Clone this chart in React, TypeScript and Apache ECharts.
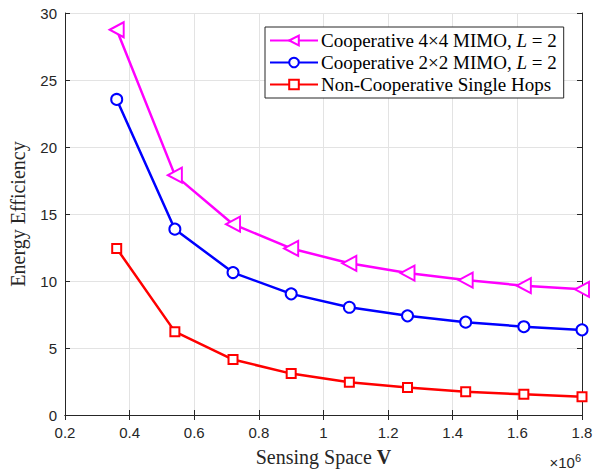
import React, { useEffect, useRef } from "react";
import * as echarts from "echarts";

const xValues = [0.36, 0.54, 0.72, 0.9, 1.08, 1.26, 1.44, 1.62, 1.8];
const coop4x4 = [28.75, 17.9, 14.24, 12.43, 11.32, 10.59, 10.07, 9.65, 9.38];
const coop2x2 = [23.55, 13.87, 10.63, 9.04, 8.04, 7.4, 6.93, 6.59, 6.35];
const nonCoop = [12.43, 6.22, 4.14, 3.09, 2.45, 2.06, 1.74, 1.54, 1.37];
const seriesNames = [
  "Cooperative 4×4 MIMO, L = 2",
  "Cooperative 2×2 MIMO, L = 2",
  "Non-Cooperative Single Hops",
];

const SERIF = "'Liberation Serif', 'Times New Roman', serif";
const SANS = "'Liberation Sans', Arial, sans-serif";
const leftTri = "path://M0,5 L10,0 L10,10 Z";

export default function App() {
  const ref = useRef<HTMLDivElement>(null);
  useEffect(() => {
    if (!ref.current) return;
    const chart = echarts.init(ref.current, null, { renderer: "svg" });
    const mk = (arr: number[]) => xValues.map((x, i) => [x, arr[i]]);
    const axisCommon = {
      axisLine: { show: true, lineStyle: { color: "#262626", width: 1 } },
      axisTick: { show: true, inside: true, length: 5, lineStyle: { color: "#262626" } },
    };
    chart.setOption({
      animation: false,
      backgroundColor: "#ffffff",
      grid: { left: 63, right: 21, top: 13, bottom: 52, containLabel: false },
      xAxis: [
        {
          type: "value",
          min: 0.2,
          max: 1.8,
          interval: 0.2,
          ...axisCommon,
          axisLabel: {
            color: "#262626",
            fontFamily: SANS,
            fontSize: 15,
            margin: 10,
            formatter: (v: number) => String(Math.round(v * 10) / 10),
          },
          splitLine: { show: true, lineStyle: { color: "#e3e3e3", width: 1 } },
          name: "Sensing Space {b|V}",
          nameLocation: "middle",
          nameGap: 32,
          nameTextStyle: {
            fontFamily: SERIF,
            fontSize: 20,
            color: "#262626",
            rich: { b: { fontFamily: SERIF, fontSize: 20, fontWeight: "bold", color: "#262626" } },
          },
        },
        {
          type: "value",
          position: "top",
          min: 0.2,
          max: 1.8,
          interval: 0.2,
          ...axisCommon,
          axisLabel: { show: false },
          splitLine: { show: false },
        },
      ],
      yAxis: [
        {
          type: "value",
          min: 0,
          max: 30,
          interval: 5,
          ...axisCommon,
          axisLabel: { color: "#262626", fontFamily: SANS, fontSize: 15, margin: 8 },
          splitLine: { show: true, lineStyle: { color: "#e3e3e3", width: 1 } },
          name: "Energy Efficiency",
          nameLocation: "middle",
          nameGap: 37,
          nameTextStyle: { fontFamily: SERIF, fontSize: 20, color: "#262626" },
        },
        {
          type: "value",
          position: "right",
          min: 0,
          max: 30,
          interval: 5,
          ...axisCommon,
          axisLabel: { show: false },
          splitLine: { show: false },
        },
      ],
      legend: {
        orient: "vertical",
        left: 265,
        top: 27,
        padding: [4, 7, 4, 4],
        itemGap: 3,
        itemWidth: 48,
        itemHeight: 12,
        backgroundColor: "#ffffff",
        borderColor: "#262626",
        borderWidth: 1,
        borderRadius: 0,
        data: seriesNames,
        formatter: (name: string) => name.replace("L = 2", "{i|L} = 2"),
        textStyle: {
          fontFamily: SERIF,
          fontSize: 19,
          color: "#000",
          padding: [0, 0, 0, -2],
          rich: {
            i: { fontFamily: SERIF, fontSize: 19, fontStyle: "italic", color: "#000" },
          },
        },
      },
      graphic: [
        {
          type: "text",
          right: 22,
          bottom: 2,
          style: {
            text: "×10{s|6}",
            fontFamily: SANS,
            fontSize: 15,
            fill: "#262626",
            rich: { s: { fontSize: 11, verticalAlign: "top", padding: [0, 0, 9, 0], fontFamily: SANS } },
          },
        },
      ],
      series: [
        {
          name: seriesNames[0],
          type: "line",
          data: mk(coop4x4),
          symbol: leftTri,
          symbolSize: [14, 15],
          showAllSymbol: true,
          lineStyle: { color: "#ff00ff", width: 2.5 },
          itemStyle: { color: "#ffffff", borderColor: "#ff00ff", borderWidth: 2 },
        },
        {
          name: seriesNames[1],
          type: "line",
          data: mk(coop2x2),
          symbol: "circle",
          symbolSize: 11,
          lineStyle: { color: "#0000ff", width: 2.5 },
          itemStyle: { color: "#ffffff", borderColor: "#0000ff", borderWidth: 2 },
        },
        {
          name: seriesNames[2],
          type: "line",
          data: mk(nonCoop),
          symbol: "rect",
          symbolSize: 9,
          lineStyle: { color: "#ff0000", width: 2.5 },
          itemStyle: { color: "#ffffff", borderColor: "#ff0000", borderWidth: 2 },
        },
      ],
    });
    return () => chart.dispose();
  }, []);
  return (
    <div
      ref={ref}
      style={{ width: 603, height: 472, position: "absolute", left: 0, top: 0 }}
    />
  );
}
